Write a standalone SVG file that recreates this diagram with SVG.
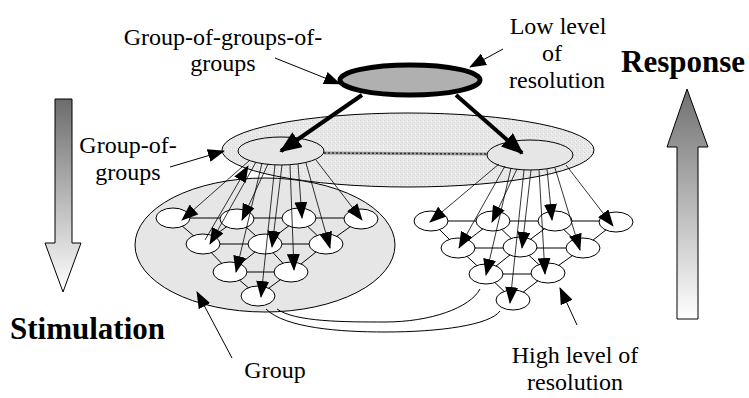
<svg xmlns="http://www.w3.org/2000/svg" width="749" height="398" viewBox="0 0 749 398">
<style>
.lbl{font-family:"Liberation Serif",serif;font-size:24px;fill:#000}
.big{font-family:"Liberation Serif",serif;font-size:31px;font-weight:bold;fill:#000}
.node{fill:#fff;stroke:#000;stroke-width:1}
.edge{stroke:#000;stroke-width:1;fill:none}
.fan{stroke:#000;stroke-width:0.8;fill:none;marker-end:url(#ah)}
.thick{stroke:#000;stroke-width:4;fill:none;marker-end:url(#ahb)}
.la{stroke:#000;stroke-width:1;fill:none;marker-end:url(#ah)}
</style>
<defs>
<marker id="ah" markerUnits="userSpaceOnUse" markerWidth="17" markerHeight="13" refX="16" refY="6.5" orient="auto"><path d="M0,0 L17,6.5 L0,13 z" fill="#000"/></marker>
<marker id="ahb" markerUnits="userSpaceOnUse" markerWidth="22" markerHeight="18" refX="20" refY="9" orient="auto"><path d="M0,0 L22,9 L0,18 z" fill="#000"/></marker>
<pattern id="tex" width="4" height="4" patternUnits="userSpaceOnUse"><rect width="4" height="4" fill="#e8e8e8"/><rect x="0" y="0" width="1" height="1" fill="#d4d4d4"/><rect x="2" y="2" width="1" height="1" fill="#d8d8d8"/><rect x="3" y="1" width="1" height="1" fill="#f8f8f8"/></pattern>
<linearGradient id="gdown" x1="0" y1="0" x2="0" y2="1"><stop offset="0" stop-color="#6c6c6c"/><stop offset="1" stop-color="#ffffff"/></linearGradient>
<linearGradient id="gup" x1="0" y1="0" x2="0" y2="1"><stop offset="0" stop-color="#707070"/><stop offset="1" stop-color="#ffffff"/></linearGradient>
</defs>
<rect width="749" height="398" fill="#fff"/>

<g id="stimulation-arrow"><path d="M55,99 H72 V243 H81 L63,292 L45,243 H55 Z" fill="url(#gdown)" stroke="#000" stroke-width="1"/></g>
<g id="response-arrow"><path d="M677,319 V147 H667 L687,89 L708,147 H698 V319 Z" fill="url(#gup)" stroke="#000" stroke-width="1"/></g>

<g id="group-of-groups"><ellipse cx="408" cy="150" rx="186" ry="37" fill="url(#tex)" stroke="#000" stroke-width="1"/></g>
<g id="group-left"><ellipse cx="265" cy="245" rx="130" ry="67" fill="#e6e6e6" stroke="#000" stroke-width="1"/></g>
<g id="gog-link"><line x1="324" y1="153" x2="487" y2="154" stroke="#9a9a9a" stroke-width="3"/><line x1="324" y1="153" x2="487" y2="154" stroke="#333" stroke-width="1.5" stroke-dasharray="2,2"/></g>
<g id="sub-left"><ellipse cx="281" cy="151" rx="43" ry="14" fill="#e6e6e6" stroke="#000" stroke-width="1"/></g>
<g id="sub-right"><ellipse cx="530" cy="155" rx="43" ry="15" fill="#e6e6e6" stroke="#000" stroke-width="1"/></g>
<g id="top"><ellipse cx="410" cy="80" rx="70" ry="15" fill="#b0b0b0" stroke="#000" stroke-width="5"/></g>

<g id="connectors-lattice">
<path class="edge" d="M173,218 H361 M203,244 H326 M230,272 H291 M173,218 L203,244 L237,219 L265,244 L299,218 L326,244 L361,219 M203,244 L230,272 L265,244 L291,272 L326,244 M230,272 L258,296 L291,272"/>
<path class="edge" d="M431,221 H616 M458,248 H583 M486,274 H548 M431,221 L458,248 L493,221 L520,247 L555,221 L583,248 L616,222 M458,248 L486,274 L520,247 L548,273 L583,248 M486,274 L513,300 L548,273"/>
</g>

<g id="nodes-left">
<g id="l1a"><ellipse class="node" cx="173" cy="218" rx="17" ry="10"/></g>
<g id="l1b"><ellipse class="node" cx="237" cy="219" rx="17" ry="10"/></g>
<g id="l1c"><ellipse class="node" cx="299" cy="218" rx="17" ry="10"/></g>
<g id="l1d"><ellipse class="node" cx="361" cy="219" rx="17" ry="10"/></g>
<g id="l2a"><ellipse class="node" cx="203" cy="244" rx="17" ry="10"/></g>
<g id="l2b"><ellipse class="node" cx="265" cy="244" rx="17" ry="10"/></g>
<g id="l2c"><ellipse class="node" cx="326" cy="244" rx="17" ry="10"/></g>
<g id="l3a"><ellipse class="node" cx="230" cy="272" rx="17" ry="10"/></g>
<g id="l3b"><ellipse class="node" cx="291" cy="272" rx="17" ry="10"/></g>
<g id="l4a"><ellipse class="node" cx="258" cy="296" rx="17" ry="10"/></g>
</g>
<g id="nodes-right">
<g id="r1a"><ellipse class="node" cx="431" cy="221" rx="17" ry="10"/></g>
<g id="r1b"><ellipse class="node" cx="493" cy="221" rx="17" ry="10"/></g>
<g id="r1c"><ellipse class="node" cx="555" cy="221" rx="17" ry="10"/></g>
<g id="r1d"><ellipse class="node" cx="616" cy="222" rx="17" ry="10"/></g>
<g id="r2a"><ellipse class="node" cx="458" cy="248" rx="17" ry="10"/></g>
<g id="r2b"><ellipse class="node" cx="520" cy="247" rx="17" ry="10"/></g>
<g id="r2c"><ellipse class="node" cx="583" cy="248" rx="17" ry="10"/></g>
<g id="r3a"><ellipse class="node" cx="486" cy="274" rx="17" ry="10"/></g>
<g id="r3b"><ellipse class="node" cx="548" cy="273" rx="17" ry="10"/></g>
<g id="r4a"><ellipse class="node" cx="513" cy="300" rx="17" ry="10"/></g>
</g>

<g id="connectors">
<line class="thick" x1="362" y1="95" x2="281" y2="151"/>
<line class="thick" x1="456" y1="95" x2="522" y2="153"/>
<line class="fan" x1="250" y1="160" x2="182" y2="220"/>
<line class="fan" x1="256" y1="162" x2="210" y2="244"/>
<line class="fan" x1="262" y1="163" x2="236" y2="272"/>
<line class="fan" x1="268" y1="164" x2="242" y2="220"/>
<line class="fan" x1="275" y1="165" x2="261" y2="297"/>
<line class="fan" x1="282" y1="165" x2="272" y2="247"/>
<line class="fan" x1="290" y1="165" x2="294" y2="270"/>
<line class="fan" x1="298" y1="164" x2="302" y2="218"/>
<line class="fan" x1="306" y1="163" x2="330" y2="248"/>
<line class="fan" x1="316" y1="160" x2="362" y2="220"/>
<line class="fan" x1="205" y1="240" x2="248" y2="166"/>
<line class="fan" x1="499" y1="164" x2="430" y2="222"/>
<line class="fan" x1="505" y1="166" x2="459" y2="248"/>
<line class="fan" x1="511" y1="168" x2="486" y2="275"/>
<line class="fan" x1="517" y1="169" x2="492" y2="222"/>
<line class="fan" x1="524" y1="170" x2="510" y2="303"/>
<line class="fan" x1="531" y1="170" x2="522" y2="248"/>
<line class="fan" x1="539" y1="170" x2="545" y2="274"/>
<line class="fan" x1="547" y1="169" x2="552" y2="220"/>
<line class="fan" x1="555" y1="168" x2="580" y2="250"/>
<line class="fan" x1="566" y1="165" x2="613" y2="226"/>
<line class="la" x1="275" y1="58" x2="340" y2="84"/>
<line class="la" x1="503" y1="49" x2="470" y2="67"/>
<line class="la" x1="170" y1="167" x2="224" y2="151"/>
<line class="la" x1="232" y1="358" x2="197" y2="292"/>
<line class="la" x1="577" y1="325" x2="560" y2="288"/>
<path class="edge" d="M277,309 C295,322 345,322 385,322 C430,322 470,308 480,289"/>
<path class="edge" d="M266,309 C285,328 340,332 385,332 C440,332 490,325 500,311"/>
</g>

<g id="labels">
<text class="lbl" x="223" y="45" text-anchor="middle">Group-of-groups-of-</text>
<text class="lbl" x="223" y="71" text-anchor="middle">groups</text>
<text class="lbl" x="558" y="34" text-anchor="middle">Low level</text>
<text class="lbl" x="552" y="61" text-anchor="middle">of</text>
<text class="lbl" x="557" y="88" text-anchor="middle">resolution</text>
<text class="big" x="621" y="72">Response</text>
<text class="lbl" x="128" y="153" text-anchor="middle">Group-of-</text>
<text class="lbl" x="128" y="180" text-anchor="middle">groups</text>
<text class="big" x="10" y="339">Stimulation</text>
<text class="lbl" x="275" y="378" text-anchor="middle">Group</text>
<text class="lbl" x="575" y="363" text-anchor="middle">High level of</text>
<text class="lbl" x="575" y="390" text-anchor="middle">resolution</text>
</g>
</svg>
